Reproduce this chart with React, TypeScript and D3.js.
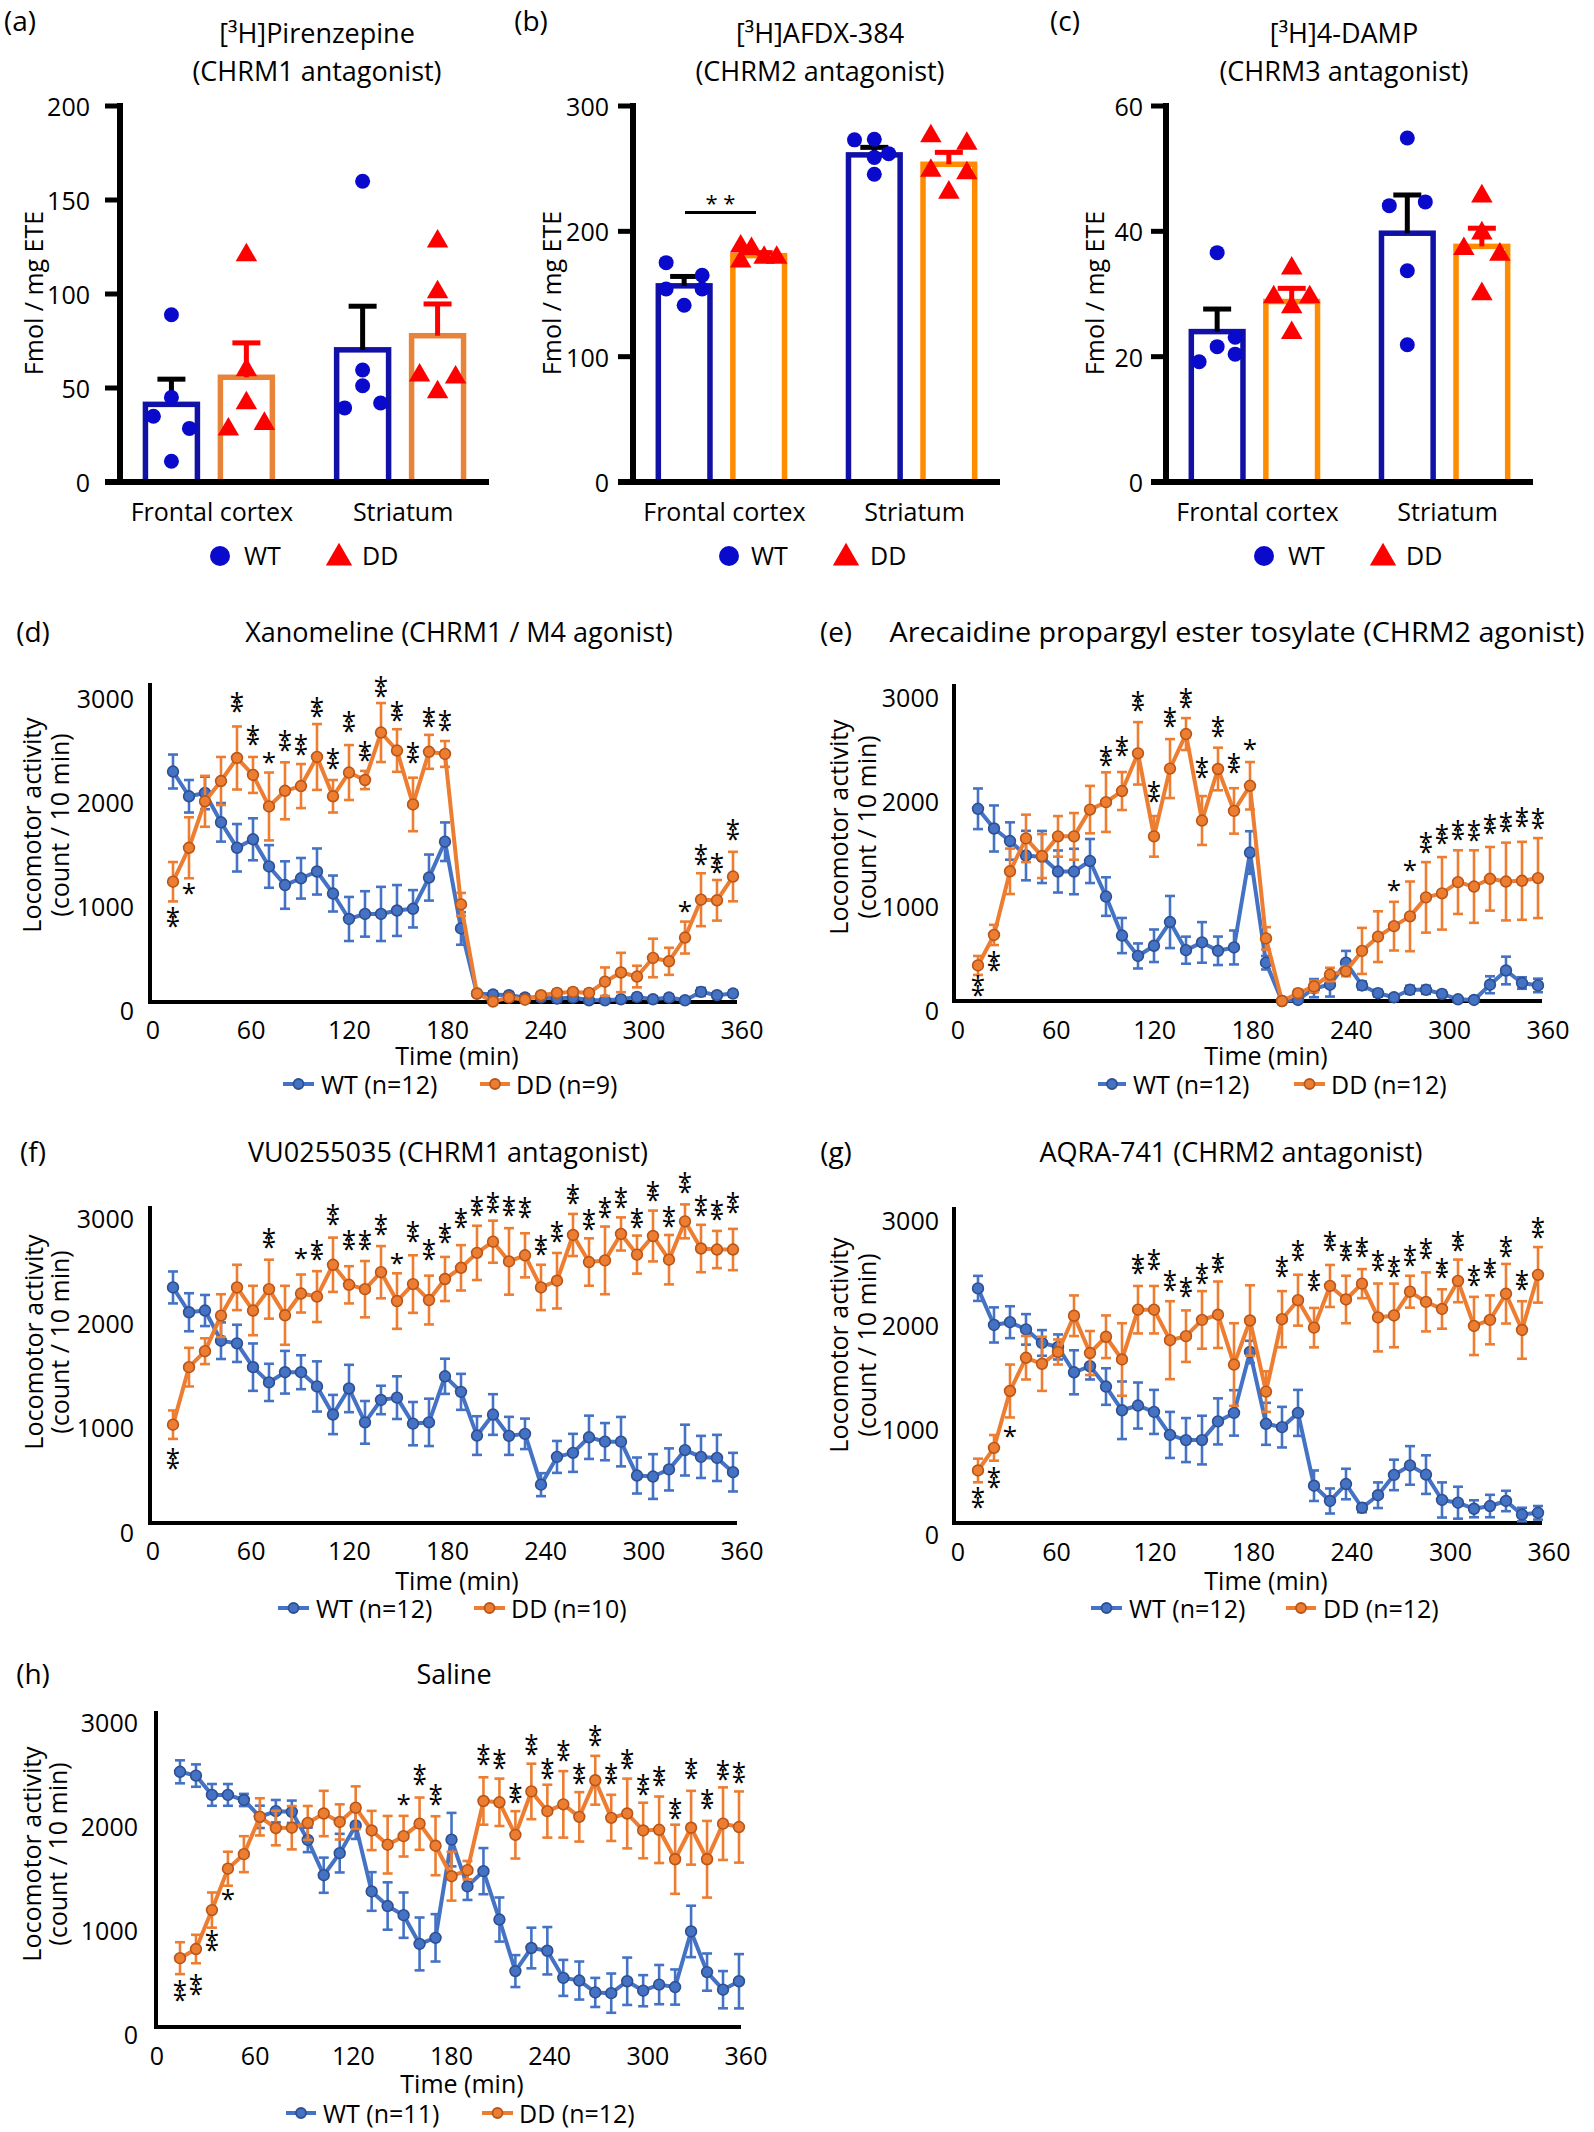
import React from "react";
import * as d3 from "d3";

const FONT = "'Open Sans', 'Noto Sans', sans-serif";

// ---------------- bar-chart data (a)-(c) ----------------
const CATEGORIES = ["Frontal cortex", "Striatum"];
const GROUPS = ["WT", "DD"];

const A_WT_MEAN = [41.3, 70.3];
const A_WT_SEM = [13.4, 23.2];
const A_DD_MEAN = [55.7, 77.8];
const A_DD_SEM = [18.3, 16.9];
const A_WT_POINTS = [[89, 45, 35, 28.5, 11], [160, 59.6, 51.2, 39.4, 42]];
const A_DD_POINTS = [[120.7, 59.6, 42, 28, 31], [128, 101, 56.7, 47.8, 55.7]];
const A_TICKS = [0, 50, 100, 150, 200];

const B_WT_MEAN = [156.5, 261];
const B_WT_SEM = [7.5, 6];
const B_DD_MEAN = [180.6, 253.5];
const B_DD_SEM = [2.4, 9.5];
const B_WT_POINTS = [[175, 154, 141, 165, 154], [273, 273.5, 262, 259, 245.6]];
const B_DD_POINTS = [[188, 186, 176, 179, 179], [276, 270, 248.5, 246.5, 231]];
const B_TICKS = [0, 100, 200, 300];
const B_SIG_LEVEL = 215;

const C_WT_MEAN = [24, 39.7];
const C_WT_SEM = [3.6, 6.1];
const C_DD_MEAN = [28.8, 37.6];
const C_DD_SEM = [2.1, 2.9];
const C_WT_POINTS = [[36.6, 21.6, 23.1, 20.4, 19.2], [54.9, 44.1, 44.7, 33.7, 21.9]];
const C_DD_POINTS = [[34.1, 29.5, 29.5, 27.9, 23.8], [45.6, 39.7, 37.2, 36.3, 30]];
const C_TICKS = [0, 20, 40, 60];

// ---------------- locomotor data (d)-(h) ----------------
const TIMES = [10, 20, 30, 40, 50, 60, 70, 80, 90, 100, 110, 120, 130, 140, 150, 160, 170, 180,
  190, 200, 210, 220, 230, 240, 250, 260, 270, 280, 290, 300, 310, 320, 330, 340, 350, 360];
const X_TICKS = [0, 60, 120, 180, 240, 300, 360];
const Y_TICKS = [0, 1000, 2000, 3000];

const D_WT = [2282, 2037, 2070, 1779, 1527, 1611, 1342, 1158, 1225, 1292, 1074, 822, 872, 872, 906, 923, 1232, 1587, 728, 84, 74, 67, 44, 44, 34, 44, 17, 17, 27, 50, 27, 44, 17, 100, 67, 84];
const D_WT_ERR = [168, 161, 161, 191, 235, 208, 211, 235, 201, 228, 178, 218, 225, 268, 252, 185, 228, 191, 161, 30, 30, 30, 30, 30, 30, 30, 30, 30, 30, 30, 30, 30, 30, 40, 30, 30];
const D_DD = [1191, 1527, 1987, 2188, 2416, 2248, 1936, 2091, 2138, 2426, 2037, 2272, 2198, 2668, 2490, 1956, 2477, 2456, 966, 84, 5, 44, 23, 67, 90, 100, 90, 201, 292, 252, 436, 403, 638, 1013, 1007, 1242];
const D_DD_ERR = [195, 302, 252, 238, 312, 178, 336, 282, 218, 326, 161, 272, 90, 292, 211, 265, 168, 128, 114, 30, 30, 30, 30, 30, 30, 30, 30, 141, 195, 107, 191, 134, 158, 262, 201, 245];
const D_SIG = [[10, 2, 856], [20, 1, 1141], [50, 2, 2987], [60, 2, 2658], [70, 1, 2433], [80, 2, 2607], [90, 2, 2567], [100, 2, 2936], [110, 2, 2426], [120, 2, 2795], [130, 2, 2500], [140, 2, 3138], [150, 2, 2896], [160, 2, 2483], [170, 2, 2836], [180, 2, 2802], [330, 1, 963], [340, 2, 1477], [350, 2, 1393], [360, 2, 1721]];

const E_WT = [1903, 1708, 1584, 1440, 1426, 1282, 1282, 1386, 1034, 648, 446, 547, 782, 503, 580, 497, 530, 1470, 379, 0, 10, 127, 161, 379, 154, 77, 37, 111, 111, 70, 17, 10, 161, 302, 178, 154];
const E_WT_ERR = [201, 228, 185, 245, 258, 208, 225, 218, 191, 174, 124, 161, 258, 134, 201, 141, 168, 211, 67, 20, 20, 90, 117, 117, 40, 34, 30, 40, 40, 30, 20, 20, 84, 137, 57, 67];
const E_DD = [352, 654, 1284, 1610, 1435, 1630, 1630, 1895, 1969, 2079, 2452, 1630, 2301, 2643, 1787, 2297, 1882, 2131, 620, 0, 77, 144, 262, 295, 496, 637, 741, 838, 1026, 1066, 1177, 1133, 1210, 1183, 1190, 1217];
const E_DD_ERR = [94, 100, 225, 235, 218, 201, 231, 235, 295, 188, 309, 201, 292, 158, 242, 211, 225, 235, 111, 20, 34, 57, 67, 50, 228, 251, 241, 345, 349, 359, 315, 359, 315, 385, 386, 396];
const E_SIG = [[10, 2, 168], [20, 2, 412], [90, 2, 2440], [100, 2, 2541], [110, 2, 2984], [120, 2, 2089], [130, 2, 2826], [140, 2, 3017], [150, 2, 2330], [160, 2, 2732], [170, 2, 2373], [180, 1, 2558], [270, 1, 1157], [280, 1, 1358], [290, 2, 1586], [300, 2, 1670], [310, 2, 1710], [320, 2, 1703], [330, 2, 1770], [340, 2, 1787], [350, 2, 1837], [360, 2, 1820]];

const F_WT = [2317, 2073, 2090, 1793, 1767, 1533, 1383, 1483, 1483, 1343, 1067, 1323, 990, 1210, 1233, 977, 990, 1443, 1290, 860, 1067, 857, 877, 377, 650, 690, 843, 800, 800, 467, 457, 527, 717, 650, 640, 500];
const F_WT_ERR = [157, 187, 153, 180, 183, 233, 183, 210, 167, 247, 193, 233, 210, 140, 210, 213, 233, 173, 177, 190, 200, 187, 150, 113, 157, 187, 213, 183, 243, 177, 220, 207, 250, 207, 227, 190];
const F_DD = [967, 1533, 1690, 2040, 2317, 2090, 2300, 2043, 2257, 2227, 2540, 2343, 2300, 2467, 2183, 2350, 2193, 2400, 2510, 2657, 2767, 2573, 2633, 2317, 2383, 2833, 2567, 2583, 2843, 2640, 2823, 2590, 2967, 2700, 2690, 2690];
const F_DD_ERR = [140, 190, 127, 210, 223, 243, 290, 290, 187, 250, 267, 183, 277, 257, 273, 283, 240, 217, 223, 267, 207, 327, 217, 223, 273, 207, 233, 333, 163, 187, 250, 243, 167, 233, 183, 203];
const F_SIG = [[10, 2, 650], [70, 2, 2817], [90, 1, 2667], [100, 2, 2700], [110, 2, 3050], [120, 2, 2800], [130, 2, 2800], [140, 2, 2950], [150, 1, 2617], [160, 2, 2883], [170, 2, 2707], [180, 2, 2867], [190, 2, 3017], [200, 2, 3133], [210, 2, 3167], [220, 2, 3133], [230, 2, 3117], [240, 2, 2750], [250, 2, 2883], [260, 2, 3250], [270, 2, 3000], [280, 2, 3117], [290, 2, 3217], [300, 2, 3017], [310, 2, 3283], [320, 2, 3033], [330, 2, 3367], [340, 2, 3140], [350, 2, 3093], [360, 2, 3167]];

const G_WT = [2323, 1961, 1988, 1917, 1783, 1743, 1492, 1552, 1351, 1116, 1163, 1100, 872, 821, 821, 1006, 1090, 1693, 982, 949, 1090, 369, 218, 386, 151, 275, 476, 570, 479, 228, 201, 141, 168, 218, 84, 101];
const G_WT_ERR = [124, 174, 158, 151, 127, 124, 218, 131, 181, 285, 228, 218, 228, 218, 241, 228, 225, 111, 208, 201, 228, 151, 124, 151, 44, 127, 151, 191, 191, 174, 158, 84, 111, 101, 67, 67];
const G_DD = [520, 744, 1307, 1636, 1576, 1693, 2052, 1683, 1844, 1619, 2112, 2112, 1810, 1850, 2011, 2062, 1569, 2005, 1301, 2018, 2206, 1934, 2347, 2213, 2370, 2035, 2055, 2290, 2189, 2119, 2397, 1951, 2011, 2270, 1911, 2457];
const G_DD_ERR = [117, 127, 262, 215, 268, 124, 201, 218, 211, 359, 235, 235, 386, 255, 285, 329, 409, 349, 201, 278, 252, 195, 208, 235, 144, 336, 315, 158, 292, 195, 211, 288, 242, 295, 285, 275];
const G_SIG = [[10, 2, 268], [20, 2, 469], [30, 1, 922], [110, 2, 2581], [120, 2, 2622], [130, 2, 2414], [140, 2, 2353], [150, 2, 2487], [160, 2, 2588], [200, 2, 2554], [210, 2, 2715], [220, 2, 2414], [230, 2, 2809], [240, 2, 2709], [250, 2, 2749], [260, 2, 2615], [270, 2, 2554], [280, 2, 2665], [290, 2, 2732], [300, 2, 2541], [310, 2, 2809], [320, 2, 2464], [330, 2, 2541], [340, 2, 2756], [350, 2, 2420], [360, 2, 2943]];

const H_WT = [2510, 2473, 2283, 2283, 2233, 2067, 2123, 2117, 1840, 1493, 1710, 1983, 1333, 1190, 1100, 817, 877, 1843, 1383, 1533, 1057, 550, 777, 750, 483, 457, 340, 333, 450, 357, 417, 393, 940, 540, 367, 450];
const H_WT_ERR = [113, 110, 107, 107, 60, 110, 110, 110, 120, 173, 190, 133, 190, 233, 223, 260, 233, 263, 133, 227, 217, 157, 200, 233, 177, 187, 143, 193, 233, 153, 193, 173, 253, 183, 183, 267];
const H_DD = [677, 767, 1150, 1557, 1700, 2067, 1957, 1960, 2007, 2100, 2017, 2157, 1933, 1793, 1877, 2000, 1783, 1483, 1543, 2223, 2210, 1890, 2317, 2123, 2190, 2067, 2427, 2057, 2100, 1933, 1940, 1650, 1960, 1650, 2000, 1967];
const H_DD_ERR = [157, 140, 173, 167, 177, 183, 170, 213, 167, 223, 173, 210, 193, 283, 200, 257, 290, 240, 90, 233, 233, 233, 273, 260, 327, 243, 240, 227, 343, 273, 327, 340, 363, 377, 357, 350];
const H_SIG = [[10, 2, 373], [20, 2, 433], [30, 2, 867], [40, 1, 1317], [150, 1, 2250], [160, 2, 2500], [170, 2, 2300], [200, 2, 2693], [210, 2, 2650], [220, 2, 2317], [230, 2, 2793], [240, 2, 2560], [250, 2, 2733], [260, 2, 2510], [270, 2, 2883], [280, 2, 2510], [290, 2, 2650], [300, 2, 2400], [310, 2, 2483], [320, 2, 2167], [330, 2, 2560], [340, 2, 2260], [350, 2, 2543], [360, 2, 2517]];

// ---------------- styles ----------------
const BAR_WT = "#1111A6";
const PT_WT = "#0A0ACC";
const PT_DD = "#FF0000";
const LINE_WT = "#4472C4";
const LINE_WT_DARK = "#2F4F8F";
const LINE_DD = "#ED7D31";
const LINE_DD_DARK = "#B8561A";
const JIT = 18;

function Stars({ x, cy, n, fs }: any) {
  const offs = n === 2 ? [-4.8, 4.8] : [0];
  return (
    <g>
      {offs.map((o, i) => (
        <text key={i} x={x} y={cy + o + 0.58 * fs} textAnchor="middle" fontSize={fs} fill="#000">*</text>
      ))}
    </g>
  );
}

function BarPanel(p: any) {
  const L = p.L;
  const y = d3.scaleLinear().domain([0, p.yMax]).range([482, 106]);
  const xg = d3.scaleBand().domain(CATEGORIES).range([L.x0, L.x1]).paddingInner(0.31).paddingOuter(0.12);
  const xs = d3.scaleBand().domain(GROUPS).range([0, xg.bandwidth()]).paddingInner(0.24);
  const bw = xs.bandwidth();
  const tri = d3.symbol().type(d3.symbolTriangle).size(200)();
  const triLeg = d3.symbol().type(d3.symbolTriangle).size(300)();
  const series = [
    { g: "WT", mean: p.wtMean, sem: p.wtSem, pts: p.wtPts, jit: L.wtJit, stroke: BAR_WT, err: "#000" },
    { g: "DD", mean: p.ddMean, sem: p.ddSem, pts: p.ddPts, jit: L.ddJit, stroke: L.ddColor, err: "#FF0000" },
  ];
  return (
    <g fontFamily={FONT} fill="#000">
      <text x={L.labelX} y={20} fontSize={28} textAnchor="middle" dominantBaseline="central">{L.label}</text>
      <text x={L.titleX} y={32} fontSize={27} textAnchor="middle" dominantBaseline="central">{L.title[0]}</text>
      <text x={L.titleX} y={70} fontSize={27} textAnchor="middle" dominantBaseline="central">{L.title[1]}</text>
      {series.map((s) =>
        CATEGORIES.map((c, ci) => {
          const bx = (xg(c) as number) + (xs(s.g) as number);
          const cx = bx + bw / 2;
          return (
            <g key={s.g + c}>
              <rect x={bx + 2.5} y={y(s.mean[ci])} width={bw - 5} height={y(0) - y(s.mean[ci])} fill="#fff" stroke={s.stroke} strokeWidth={5.5} />
              <line x1={cx} x2={cx} y1={y(s.mean[ci])} y2={y(s.mean[ci] + s.sem[ci])} stroke={s.err} strokeWidth={5} />
              <line x1={cx - 14} x2={cx + 14} y1={y(s.mean[ci] + s.sem[ci])} y2={y(s.mean[ci] + s.sem[ci])} stroke={s.err} strokeWidth={5} />
            </g>
          );
        })
      )}
      {series.map((s) =>
        CATEGORIES.map((c, ci) => {
          const cx = (xg(c) as number) + (xs(s.g) as number) + bw / 2;
          return s.pts[ci].map((v: number, k: number) =>
            s.g === "WT" ? (
              <circle key={s.g + c + k} cx={cx + s.jit[ci][k] * JIT} cy={y(v)} r={7.5} fill={PT_WT} />
            ) : (
              <path key={s.g + c + k} d={tri as string} transform={`translate(${cx + s.jit[ci][k] * JIT},${y(v)})`} fill={PT_DD} />
            )
          );
        })
      )}
      {p.sig != null && (
        <g>
          <line x1={L.sigX[0]} x2={L.sigX[1]} y1={y(p.sig)} y2={y(p.sig)} stroke="#000" strokeWidth={3} />
          <text x={(L.sigX[0] + L.sigX[1]) / 2} y={y(p.sig) - 2} fontSize={22} textAnchor="middle">* *</text>
        </g>
      )}
      <line x1={L.x0} x2={L.x0} y1={y(0) + 3} y2={y(p.yMax) - 3} stroke="#000" strokeWidth={6} />
      <line x1={L.x0 - 15} x2={L.x1} y1={y(0)} y2={y(0)} stroke="#000" strokeWidth={6} />
      {p.ticks.map((t: number) => (
        <g key={t}>
          <line x1={L.x0 - 15} x2={L.x0} y1={y(t)} y2={y(t)} stroke="#000" strokeWidth={5} />
          <text x={L.tickLabX} y={y(t)} fontSize={25} textAnchor="end" dominantBaseline="central">{t}</text>
        </g>
      ))}
      {CATEGORIES.map((c) => (
        <text key={c} x={(xg(c) as number) + xg.bandwidth() / 2 + 3} y={511} fontSize={25} textAnchor="middle" dominantBaseline="central">{c}</text>
      ))}
      <text transform={`translate(${L.ytX},293) rotate(-90)`} fontSize={25} textAnchor="middle" dominantBaseline="central">Fmol / mg ETE</text>
      <circle cx={L.leg[0]} cy={556} r={10} fill={PT_WT} />
      <text x={L.leg[1]} y={555} fontSize={25} dominantBaseline="central">WT</text>
      <path d={triLeg as string} transform={`translate(${L.leg[2]},558)`} fill={PT_DD} />
      <text x={L.leg[3]} y={555} fontSize={25} dominantBaseline="central">DD</text>
    </g>
  );
}

function LinePanel(p: any) {
  const L = p.L;
  const xd = d3.scaleLinear().domain([10, 360]).range([L.d10, L.d360]);
  const xl = d3.scaleLinear().domain([0, 360]).range([L.l0, L.l360]);
  const y = d3.scaleLinear().domain([0, 3000]).range([L.y0, L.y3000]);
  const yl = d3.scaleLinear().domain([0, 3000]).range([L.yl0, L.yl3000]);
  const line = d3.line<number>().x((_, i) => xd(TIMES[i])).y((v) => y(v));
  const series = [
    { vals: p.wt, err: p.wtErr, c: LINE_WT, dk: LINE_WT_DARK },
    { vals: p.dd, err: p.ddErr, c: LINE_DD, dk: LINE_DD_DARK },
  ];
  const legs = [
    { seg: L.lw, tx: L.lwt, c: LINE_WT, dk: LINE_WT_DARK, label: p.wtLabel },
    { seg: L.ld, tx: L.ldt, c: LINE_DD, dk: LINE_DD_DARK, label: p.ddLabel },
  ];
  return (
    <g fontFamily={FONT} fill="#000">
      <text x={L.plX} y={L.titleY} fontSize={28} textAnchor="middle" dominantBaseline="central">{L.label}</text>
      <text x={L.titleX} y={L.titleY} fontSize={27} textAnchor="middle" dominantBaseline="central"
        {...(L.titleLen ? { textLength: L.titleLen, lengthAdjust: "spacingAndGlyphs" } : {})}>{p.title}</text>
      <line x1={L.yx} x2={L.yx} y1={y(0) + 2} y2={L.ytop} stroke="#000" strokeWidth={4} />
      <line x1={L.yx} x2={L.xend} y1={y(0)} y2={y(0)} stroke="#000" strokeWidth={4} />
      {Y_TICKS.map((t) => (
        <text key={t} x={L.ylabX} y={yl(t)} fontSize={25} textAnchor="end" dominantBaseline="central">{t}</text>
      ))}
      {X_TICKS.map((t) => (
        <text key={t} x={xl(t)} y={L.xlabY} fontSize={25} textAnchor="middle" dominantBaseline="central">{t}</text>
      ))}
      {series.map((s, si) => (
        <g key={si}>
          {s.vals.map((v: number, i: number) => {
            const x = xd(TIMES[i]);
            const lo = y(Math.max(0, v - s.err[i]));
            const hi = y(v + s.err[i]);
            return (
              <g key={i} stroke={s.c} strokeWidth={2.6}>
                <line x1={x} x2={x} y1={lo} y2={hi} />
                <line x1={x - 5} x2={x + 5} y1={hi} y2={hi} />
                <line x1={x - 5} x2={x + 5} y1={lo} y2={lo} />
              </g>
            );
          })}
          <path d={line(s.vals) as string} fill="none" stroke={s.c} strokeWidth={4} strokeLinejoin="round" />
          {s.vals.map((v: number, i: number) => (
            <circle key={i} cx={xd(TIMES[i])} cy={y(v)} r={5.4} fill={s.c} stroke={s.dk} strokeWidth={1.6} />
          ))}
        </g>
      ))}
      {p.sig.map((s: number[], i: number) => (
        <Stars key={i} x={xd(s[0])} cy={y(s[2])} n={s[1]} fs={26} />
      ))}
      <text x={L.timeX} y={L.timeY} fontSize={25} textAnchor="middle" dominantBaseline="central">Time (min)</text>
      {legs.map((g, i) => (
        <g key={i}>
          <line x1={g.seg[0]} x2={g.seg[1]} y1={L.legY} y2={L.legY} stroke={g.c} strokeWidth={4} />
          <circle cx={(g.seg[0] + g.seg[1]) / 2} cy={L.legY} r={5} fill={g.c} stroke={g.dk} strokeWidth={1.8} />
          <text x={g.tx} y={L.legY} fontSize={25} dominantBaseline="central">{g.label}</text>
        </g>
      ))}
      <text transform={`translate(${L.yt1X},${L.ytY}) rotate(-90)`} fontSize={25} textAnchor="middle" dominantBaseline="central">Locomotor activity</text>
      <text transform={`translate(${L.yt2X},${L.ytY}) rotate(-90)`} fontSize={25} textAnchor="middle" dominantBaseline="central">(count / 10 min)</text>
    </g>
  );
}

// ---------------- layouts ----------------
const LAY_A = { label: "(a)", labelX: 20, titleX: 317, title: ["[³H]Pirenzepine", "(CHRM1 antagonist)"], x0: 120, x1: 489, ytX: 33, tickLabX: 90, leg: [220, 244, 339, 362], ddColor: "#E8833A",
  wtJit: [[0, 0, -1, 1, 0], [0, 0, 0, -1, 1]], ddJit: [[0, 0, 0, -1, 1], [0, 0, -1, 0, 1]] };
const LAY_B = { label: "(b)", labelX: 531, titleX: 820, title: ["[³H]AFDX-384", "(CHRM2 antagonist)"], x0: 633, x1: 1000, ytX: 551, tickLabX: 609, leg: [729, 751, 846, 870], ddColor: "#FF8C00",
  wtJit: [[-1, -1, 0, 1, 1], [-1.1, 0, 0.8, 0, 0]], ddJit: [[-1, -0.4, -1, 0.3, 1], [-1, 1, -1, 1, 0]], sigX: [685, 756] };
const LAY_C = { label: "(c)", labelX: 1065, titleX: 1344, title: ["[³H]4-DAMP", "(CHRM3 antagonist)"], x0: 1166, x1: 1533, ytX: 1094, tickLabX: 1143, leg: [1264, 1288, 1383, 1406], ddColor: "#FF8C00",
  wtJit: [[0, 0, 1, 1, -1], [0, -1, 1, 0, 0]], ddJit: [[0, -1, 1, 0, 0], [0, 0, -1, 1, 0]] };

const LAY_D = { label: "(d)", plX: 33, titleX: 459, titleY: 631, yx: 150, d10: 173, d360: 733, l0: 153, l360: 742, y0: 1002, y3000: 699, yl0: 1010, yl3000: 698, ytop: 683, xend: 737, ylabX: 134, xlabY: 1029,
  timeX: 457, timeY: 1055, legY: 1084, lw: [283, 314], lwt: 321, ld: [480, 510], ldt: 516, yt1X: 31, yt2X: 59, ytY: 825 };
const LAY_E = { label: "(e)", plX: 836, titleX: 1237, titleY: 631, titleLen: 695, yx: 954, d10: 978, d360: 1538, l0: 958, l360: 1548, y0: 1001, y3000: 698, yl0: 1010, yl3000: 697, ytop: 684, xend: 1542, ylabX: 939, xlabY: 1029,
  timeX: 1266, timeY: 1055, legY: 1084, lw: [1098, 1126], lwt: 1133, ld: [1294, 1325], ldt: 1331, yt1X: 838, yt2X: 866, ytY: 827 };
const LAY_F = { label: "(f)", plX: 33, titleX: 448, titleY: 1151, yx: 150, d10: 173, d360: 733, l0: 153, l360: 742, y0: 1523, y3000: 1218, yl0: 1532, yl3000: 1218, ytop: 1206, xend: 737, ylabX: 134, xlabY: 1550,
  timeX: 457, timeY: 1580, legY: 1608, lw: [278, 309], lwt: 316, ld: [474, 505], ldt: 511, yt1X: 33, yt2X: 59, ytY: 1342 };
const LAY_G = { label: "(g)", plX: 836, titleX: 1231, titleY: 1151, yx: 954, d10: 978, d360: 1538, l0: 958, l360: 1549, y0: 1523, y3000: 1220, yl0: 1534, yl3000: 1220, ytop: 1207, xend: 1542, ylabX: 939, xlabY: 1551,
  timeX: 1266, timeY: 1580, legY: 1608, lw: [1091, 1122], lwt: 1129, ld: [1286, 1316], ldt: 1323, yt1X: 838, yt2X: 866, ytY: 1345 };
const LAY_H = { label: "(h)", plX: 33, titleX: 454, titleY: 1673, yx: 156, d10: 180, d360: 739, l0: 157, l360: 746, y0: 2027, y3000: 1722, yl0: 2034, yl3000: 1722, ytop: 1711, xend: 741, ylabX: 138, xlabY: 2055,
  timeX: 462, timeY: 2083, legY: 2113, lw: [286, 316], lwt: 323, ld: [482, 513], ldt: 519, yt1X: 31, yt2X: 57, ytY: 1854 };

export default function App() {
  return (
    <svg width={1594} height={2132} viewBox="0 0 1594 2132" style={{ position: "absolute", left: 0, top: 0, background: "#fff", display: "block" }}>
      <rect x={0} y={0} width={1594} height={2132} fill="#fff" />
      <BarPanel L={LAY_A} yMax={200} ticks={A_TICKS} wtMean={A_WT_MEAN} wtSem={A_WT_SEM} ddMean={A_DD_MEAN} ddSem={A_DD_SEM} wtPts={A_WT_POINTS} ddPts={A_DD_POINTS} />
      <BarPanel L={LAY_B} yMax={300} ticks={B_TICKS} wtMean={B_WT_MEAN} wtSem={B_WT_SEM} ddMean={B_DD_MEAN} ddSem={B_DD_SEM} wtPts={B_WT_POINTS} ddPts={B_DD_POINTS} sig={B_SIG_LEVEL} />
      <BarPanel L={LAY_C} yMax={60} ticks={C_TICKS} wtMean={C_WT_MEAN} wtSem={C_WT_SEM} ddMean={C_DD_MEAN} ddSem={C_DD_SEM} wtPts={C_WT_POINTS} ddPts={C_DD_POINTS} />
      <LinePanel L={LAY_D} title="Xanomeline (CHRM1 / M4 agonist)" wt={D_WT} wtErr={D_WT_ERR} dd={D_DD} ddErr={D_DD_ERR} sig={D_SIG} wtLabel="WT (n=12)" ddLabel="DD (n=9)" />
      <LinePanel L={LAY_E} title="Arecaidine propargyl ester tosylate (CHRM2 agonist)" wt={E_WT} wtErr={E_WT_ERR} dd={E_DD} ddErr={E_DD_ERR} sig={E_SIG} wtLabel="WT (n=12)" ddLabel="DD (n=12)" />
      <LinePanel L={LAY_F} title="VU0255035 (CHRM1 antagonist)" wt={F_WT} wtErr={F_WT_ERR} dd={F_DD} ddErr={F_DD_ERR} sig={F_SIG} wtLabel="WT (n=12)" ddLabel="DD (n=10)" />
      <LinePanel L={LAY_G} title="AQRA-741 (CHRM2 antagonist)" wt={G_WT} wtErr={G_WT_ERR} dd={G_DD} ddErr={G_DD_ERR} sig={G_SIG} wtLabel="WT (n=12)" ddLabel="DD (n=12)" />
      <LinePanel L={LAY_H} title="Saline" wt={H_WT} wtErr={H_WT_ERR} dd={H_DD} ddErr={H_DD_ERR} sig={H_SIG} wtLabel="WT (n=11)" ddLabel="DD (n=12)" />
    </svg>
  );
}
